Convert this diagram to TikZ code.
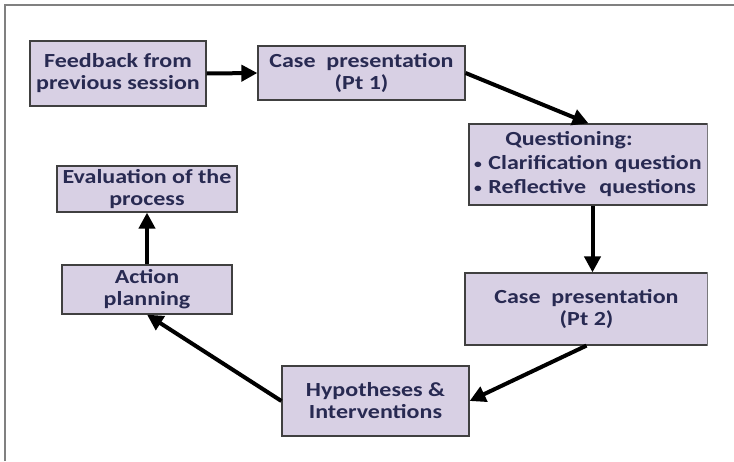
\documentclass[tikz,border=0pt]{standalone}
\usepackage{fontspec}
\setmainfont{Carlito}[FakeStretch=1.2]
\usetikzlibrary{arrows.meta}
\definecolor{boxfill}{RGB}{216,208,228}
\definecolor{boxtext}{RGB}{40,42,82}
\newcommand{\qbullet}{\raisebox{1.5pt}{\fontsize{13}{13}\selectfont\textbullet}~}
\tikzset{
  stage/.style={draw=black!75, line width=1.2pt, fill=boxfill, text=boxtext,
    font=\bfseries\fontsize{20}{22}\selectfont, align=center, inner sep=2pt},
  link/.style={line width=4pt, -{Triangle[length=16pt,width=16pt]}}
}
\begin{document}
\begin{tikzpicture}[x=1pt,y=-1pt]
\useasboundingbox (0,0) rectangle (734,461);
\draw [gray, line width=1.5pt] (5,461) -- (5,5) -- (734,5);
\begin{scope}
\clip (0,0) rectangle (707.5,461);
\node[stage, minimum width=176pt, minimum height=65pt] (fb) at (118,73.5) {Feedback from\\previous session};
\node[stage, minimum width=207pt, minimum height=54pt] (pa) at (361.5,73) {Case\ \ presentation\\(Pt 1)};
\node[stage, minimum width=239pt, minimum height=81pt, text width=229pt, align=left, font=\bfseries\fontsize{20}{24}\selectfont] (qu) at (588.5,164.5)
  {\makebox[190pt][c]{Questioning:}\\\mbox{\qbullet Clarification question}\\\mbox{\qbullet Reflective\ \ questions}};
\node[stage, minimum width=243pt, minimum height=72pt] (pb) at (586.5,309) {Case\ \ presentation\\(Pt 2)};
\node[stage, minimum width=187pt, minimum height=70pt] (hy) at (375.5,401) {Hypotheses \&\\Interventions};
\node[stage, minimum width=170pt, minimum height=49pt] (ap) at (147,289.5) {Action\\planning};
\node[stage, minimum width=180pt, minimum height=46pt] (ev) at (147,189) {Evaluation of the\\process};
\end{scope}
\draw [link] (fb.east) -- (pa.west);
\draw [link] (pa.east) -- (qu.north);
\draw [link] ([xshift=4pt]qu.south) -- ([xshift=4pt]qu.south |- pb.north);
\draw [link] (pb.south) -- (hy.east);
\draw [link] (hy.west) -- (ap.south);
\draw [link] (ap.north) -- (ev.south);
\end{tikzpicture}
\end{document}
